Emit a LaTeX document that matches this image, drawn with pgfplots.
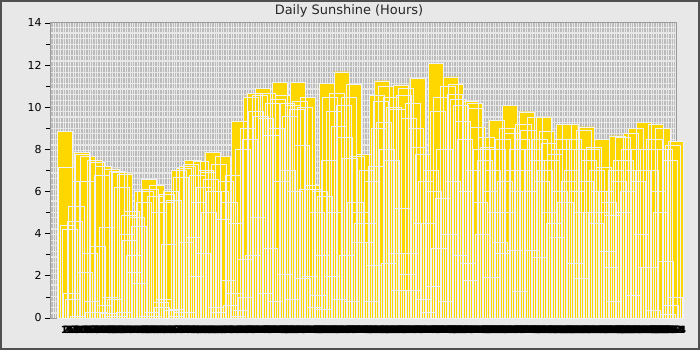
\documentclass[border=0pt]{standalone}
\usepackage{pgfplots}
\pgfplotsset{compat=1.18}
\usepackage{fontspec}
\setmainfont{DejaVu Sans}
\definecolor{bg}{HTML}{E8E8E8}
\definecolor{framec}{HTML}{505050}
\definecolor{gold}{HTML}{FFD700}
\definecolor{edge}{HTML}{F0F2F8}
\definecolor{gridc}{HTML}{BBBBBB}
\definecolor{axc}{HTML}{9A9A9A}
\begin{document}
\begin{tikzpicture}
\useasboundingbox (0,0) rectangle (700bp,350bp);
\fill[bg] (0,0) rectangle (700bp,350bp);
\draw[framec, line width=2bp] (1bp,1bp) rectangle (699bp,349bp);
\node[font=\fontsize{13}{13}\selectfont, text=black!85] at (349bp,339bp) {Daily Sunshine (Hours)};
\begin{axis}[
  at={(50bp,32bp)}, anchor=south west, scale only axis,
  width=626bp, height=295bp,
  xmin=-8.6, xmax=364, ymin=0, ymax=14,
  clip=false,
  axis background/.style={fill=bg},
  axis line style={axc, line width=1bp},
  /pgf/number format/assume math mode=true,
  ytick={0,2,...,14}, minor ytick={1,3,...,13},
  ytick pos=left, tick align=outside,
  major tick length=5bp, minor tick length=4bp,
  every tick/.style={black, line width=0.8bp},
  yticklabel style={font=\fontsize{11}{11}\selectfont},
  xtick={0,...,364},
  xtick style={draw=none},
  xticklabel={\pgfmathtruncatemacro\d{\tick+1}\d},
  xticklabel style={font=\bfseries\fontsize{10}{10}\selectfont, text=black},
  extra x ticks={-8,...,-1}, extra x tick labels={},
  extra x tick style={xmajorgrids=true},
  xmajorgrids=true,
  major grid style={gridc, dash pattern=on 4.4bp off 1.2bp, line width=1bp},
]
\addplot[ybar, bar width=15.121bp, fill=gold, draw=edge, line width=0.3bp] coordinates {
(0,8.87)(1,7.18)(2,4.4)(3,4.2)(4,1.17)(5,0.89)(6,4.6)(7,5.3)(8,0.1)(9,6.5)
(10,7.85)(11,7.78)(12,2.17)(13,6.5)(14,7.69)(15,3.07)(16,0.81)(17,0.27)(18,7.5)(19,7.4)
(20,3.43)(21,0.27)(22,6.8)(23,7.2)(24,0.6)(25,4.3)(26,0.22)(27,1.0)(28,7.08)(29,0.1)
(30,0.9)(31,6.95)(32,0.1)(33,6.9)(34,6.2)(35,0.3)(36,6.85)(37,3.97)(38,4.9)(39,3.7)
(40,5.08)(41,3.0)(42,2.17)(43,4.8)(44,4.37)(45,1.64)(46,6.0)(47,5.5)(48,6.0)(49,0.1)
(50,6.58)(51,6.12)(52,0.3)(53,0.1)(54,5.8)(55,6.3)(56,5.0)(57,0.73)(58,0.5)(59,0.9)
(60,5.5)(61,5.9)(62,3.5)(63,6.0)(64,0.35)(65,5.6)(66,0.4)(67,0.1)(68,7.0)(69,6.7)
(70,0.3)(71,7.1)(72,3.6)(73,7.2)(74,0.3)(75,7.3)(76,7.47)(77,3.85)(78,1.98)(79,6.8)
(80,5.5)(81,7.45)(82,3.1)(83,6.2)(84,7.0)(85,6.9)(86,5.0)(87,6.6)(88,7.86)(89,6.0)
(90,0.5)(91,0.3)(92,7.3)(93,6.0)(94,7.69)(95,4.7)(96,6.5)(97,1.8)(98,5.5)(99,0.6)
(100,6.8)(101,1.2)(102,4.5)(103,0.1)(104,9.35)(105,0.35)(106,8.0)(107,2.8)(108,1.0)(109,9.0)
(110,8.5)(111,10.49)(112,3.0)(113,10.66)(114,9.8)(115,4.8)(116,10.58)(117,9.6)(118,10.9)(119,1.2)
(120,9.5)(121,10.66)(122,3.3)(123,8.7)(124,10.2)(125,0.8)(126,9.0)(127,10.4)(128,11.17)(129,6.5)
(130,10.58)(131,2.1)(132,10.19)(133,7.0)(134,9.6)(135,0.9)(136,10.1)(137,6.0)(138,9.9)(139,11.17)
(140,10.3)(141,8.2)(142,1.9)(143,10.0)(144,6.1)(145,10.47)(146,2.0)(147,6.3)(148,6.1)(149,0.5)
(150,5.0)(151,1.1)(152,6.0)(153,3.0)(154,0.4)(155,5.8)(156,11.14)(157,7.5)(158,10.5)(159,2.0)
(160,9.8)(161,5.0)(162,10.66)(163,9.1)(164,0.9)(165,11.69)(166,10.1)(167,8.58)(168,3.0)(169,10.5)
(170,7.58)(171,0.8)(172,11.09)(173,5.5)(174,7.69)(175,3.6)(176,5.0)(177,4.5)(178,7.77)(179,3.6)
(180,7.0)(181,4.5)(182,0.8)(183,6.5)(184,2.5)(185,7.2)(186,10.58)(187,9.0)(188,10.3)(189,11.26)
(190,9.3)(191,11.0)(192,8.0)(193,2.6)(194,10.5)(195,7.5)(196,10.0)(197,3.1)(198,9.9)(199,1.3)
(200,11.06)(201,5.2)(202,10.58)(203,10.9)(204,2.1)(205,9.5)(206,3.1)(207,10.2)(208,1.3)(209,9.0)
(210,11.38)(211,8.1)(212,4.5)(213,7.77)(214,0.9)(215,6.5)(216,0.3)(217,4.5)(218,7.0)(219,1.5)
(220,6.0)(221,12.09)(222,9.82)(223,3.3)(224,10.5)(225,5.7)(226,8.0)(227,0.8)(228,11.0)(229,4.0)
(230,11.45)(231,6.5)(232,10.6)(233,11.1)(234,10.38)(235,3.0)(236,10.1)(237,9.32)(238,8.5)(239,6.0)
(240,2.6)(241,1.8)(242,10.27)(243,7.0)(244,10.19)(245,9.98)(246,9.08)(247,5.5)(248,8.0)(249,4.0)
(250,7.5)(251,8.56)(252,8.1)(253,6.0)(254,1.96)(255,7.0)(256,5.0)(257,9.37)(258,8.0)(259,3.6)
(260,3.07)(261,8.5)(262,6.5)(263,9.0)(264,5.0)(265,10.08)(266,8.77)(267,7.0)(268,3.2)(269,8.0)
(270,6.0)(271,1.28)(272,8.5)(273,9.2)(274,7.0)(275,9.79)(276,8.92)(277,6.0)(278,3.2)(279,8.0)
(280,9.55)(281,7.5)(282,2.9)(283,8.5)(284,6.5)(285,9.55)(286,7.0)(287,8.89)(288,8.29)(289,5.0)
(290,7.5)(291,4.5)(292,7.77)(293,3.86)(294,8.0)(295,6.0)(296,8.5)(297,9.19)(298,5.5)(299,8.0)
(300,6.5)(301,9.19)(302,7.0)(303,8.5)(304,2.6)(305,6.0)(306,8.0)(307,5.0)(308,1.9)(309,8.92)
(310,6.5)(311,9.08)(312,7.5)(313,5.0)(314,8.0)(315,8.1)(316,4.5)(317,7.0)(318,6.0)(319,5.0)
(320,8.48)(321,7.18)(322,6.0)(323,3.18)(324,5.5)(325,2.4)(326,4.9)(327,0.8)(328,7.0)(329,8.65)
(330,6.5)(331,7.5)(332,8.58)(333,5.0)(334,7.5)(335,6.0)(336,8.0)(337,8.77)(338,7.0)(339,1.1)
(340,9.0)(341,6.5)(342,8.0)(343,4.0)(344,7.0)(345,9.29)(346,2.4)(347,8.0)(348,2.4)(349,7.0)
(350,0.38)(351,8.5)(352,9.19)(353,6.0)(354,8.0)(355,5.0)(356,9.0)(357,8.0)(358,2.7)(359,0.2)
(360,7.5)(361,0.6)(362,8.2)(363,1.0)(364,8.37)
};
\end{axis}
\end{tikzpicture}
\end{document}
